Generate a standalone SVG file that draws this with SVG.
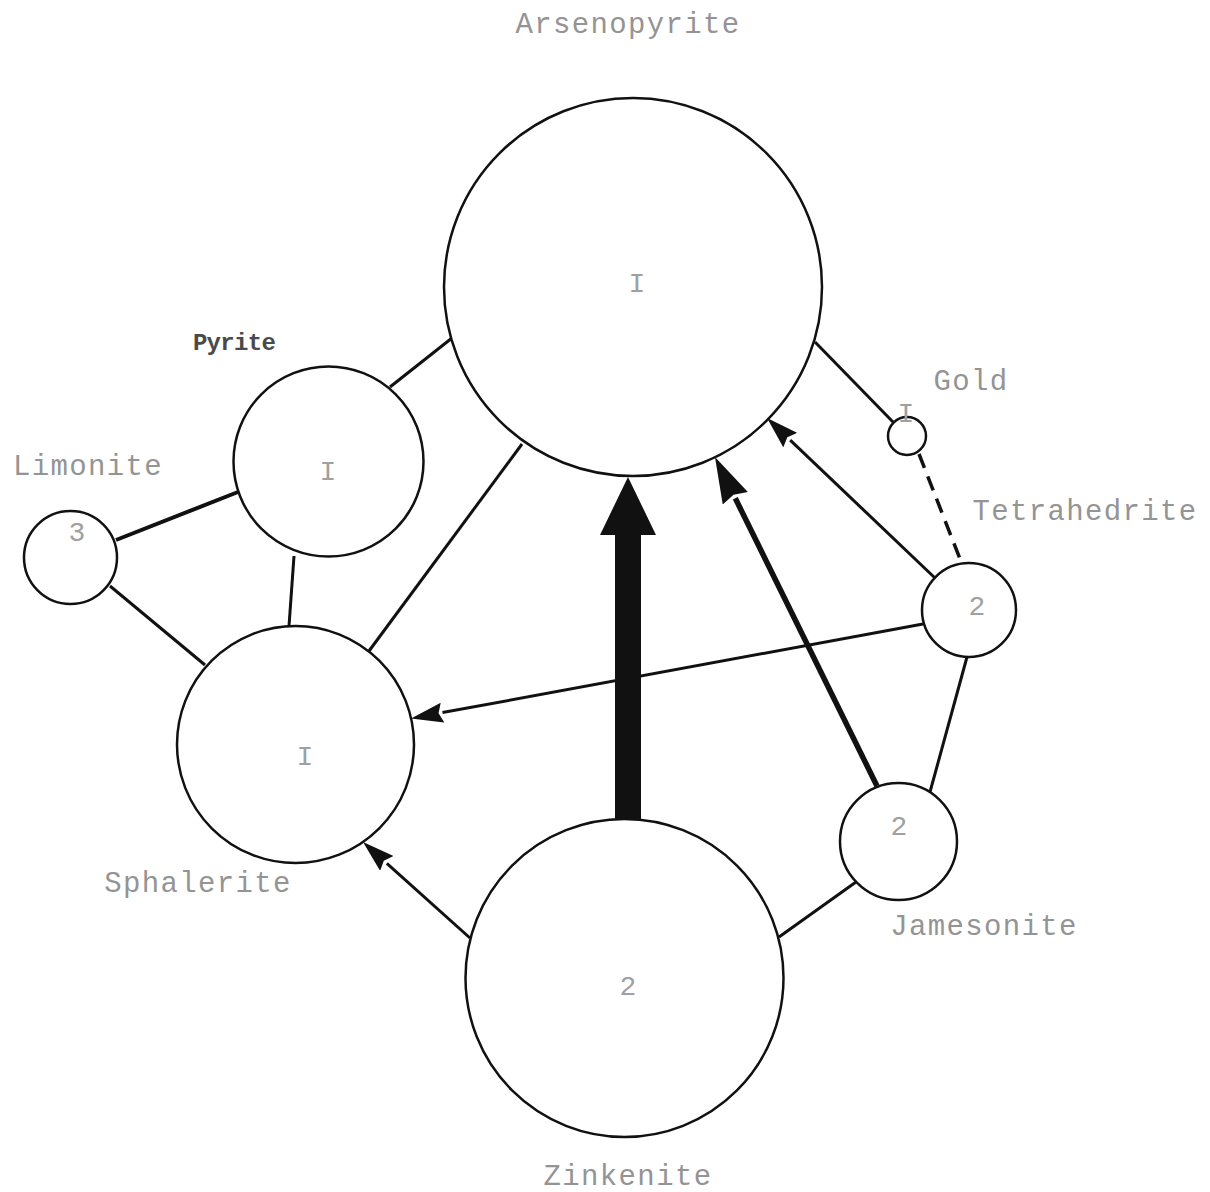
<svg xmlns="http://www.w3.org/2000/svg" width="1210" height="1192" viewBox="0 0 1210 1192">
<style>
.node{fill:#fff;stroke:#111;stroke-width:2.5}
.edge{stroke:#111;stroke-width:3;fill:none;stroke-linecap:butt}
.lbl{font-family:"Liberation Mono","Courier New",monospace;font-size:29px;letter-spacing:1.35px;fill:#949494;text-anchor:middle}
.num{font-family:"Liberation Mono","Courier New",monospace;font-size:28px;fill:#a0a0a0;text-anchor:middle}
</style>
<defs>
<marker id="arrS" markerUnits="userSpaceOnUse" markerWidth="32" markerHeight="20" viewBox="0 0 32 20" refX="0" refY="10" orient="auto"><path d="M0,0 L32,10 L0,20 L4,10 z" fill="#111"/></marker>
<marker id="arrM" markerUnits="userSpaceOnUse" markerWidth="46" markerHeight="28" viewBox="0 0 46 28" refX="0" refY="14" orient="auto"><path d="M0,0 L46,14 L0,28 L4,14 z" fill="#111"/></marker>
<marker id="arrL" markerUnits="userSpaceOnUse" markerWidth="58" markerHeight="56" viewBox="0 0 58 56" refX="0" refY="28" orient="auto"><path d="M0,0 L58,28 L0,56 z" fill="#111"/></marker>
</defs>
<rect width="1210" height="1192" fill="#fff"/>
<g id="connectors">
<line class="edge" x1="390" y1="387" x2="452" y2="338"/>
<line class="edge" style="stroke-width:4" x1="116" y1="540" x2="238" y2="492"/>
<line class="edge" x1="110" y1="586" x2="205" y2="665"/>
<line class="edge" x1="294" y1="556" x2="289" y2="626"/>
<line class="edge" x1="369" y1="651" x2="522" y2="444"/>
<line class="edge" x1="815" y1="342" x2="893" y2="422"/>
<line class="edge" style="stroke-width:3.5;stroke-dasharray:15 9" x1="919" y1="454" x2="962" y2="564"/>
<line class="edge" x1="967" y1="657" x2="930" y2="792"/>
<line class="edge" x1="856" y1="882" x2="779" y2="937"/>
<line class="edge" marker-end="url(#arrS)" x1="923" y1="624" x2="442.5" y2="712.6"/>
<line class="edge" marker-end="url(#arrS)" x1="470" y1="938" x2="386.8" y2="863.4"/>
<line class="edge" marker-end="url(#arrS)" x1="935" y1="578" x2="790.2" y2="440.1"/>
<line class="edge" style="stroke-width:5.5" marker-end="url(#arrM)" x1="877" y1="786" x2="735.3" y2="498.3"/>
<line class="edge" style="stroke-width:26" marker-end="url(#arrL)" x1="628" y1="820" x2="628" y2="535"/>
</g>
<g id="arsenopyrite"><circle class="node" cx="633" cy="287" r="189"/><text class="num" x="637" y="292">I</text><text class="lbl" x="628" y="33">Arsenopyrite</text></g>
<g id="pyrite"><circle class="node" cx="328.5" cy="461.5" r="95"/><text class="num" x="328" y="480">I</text><text class="lbl" style="font-size:24px;letter-spacing:-0.7px;fill:#4a4a4a;font-weight:bold" x="234" y="350">Pyrite</text></g>
<g id="limonite"><circle class="node" cx="70.5" cy="557.5" r="46.5"/><text class="num" x="77" y="541">3</text><text class="lbl" x="88" y="475">Limonite</text></g>
<g id="sphalerite"><circle class="node" cx="295.5" cy="744.5" r="118.5"/><text class="num" x="305" y="765">I</text><text class="lbl" x="198" y="892">Sphalerite</text></g>
<g id="zinkenite"><circle class="node" cx="624.5" cy="978" r="159"/><text class="num" x="628" y="995">2</text><text class="lbl" x="628" y="1185">Zinkenite</text></g>
<g id="gold"><circle class="node" cx="907" cy="436" r="19"/><text class="num" x="906" y="422">I</text><text class="lbl" x="971" y="390">Gold</text></g>
<g id="tetrahedrite"><circle class="node" cx="969" cy="610" r="47"/><text class="num" x="977" y="615">2</text><text class="lbl" x="1085" y="520">Tetrahedrite</text></g>
<g id="jamesonite"><circle class="node" cx="898.5" cy="841.5" r="58.5"/><text class="num" x="899" y="835">2</text><text class="lbl" x="984" y="935">Jamesonite</text></g>
</svg>
